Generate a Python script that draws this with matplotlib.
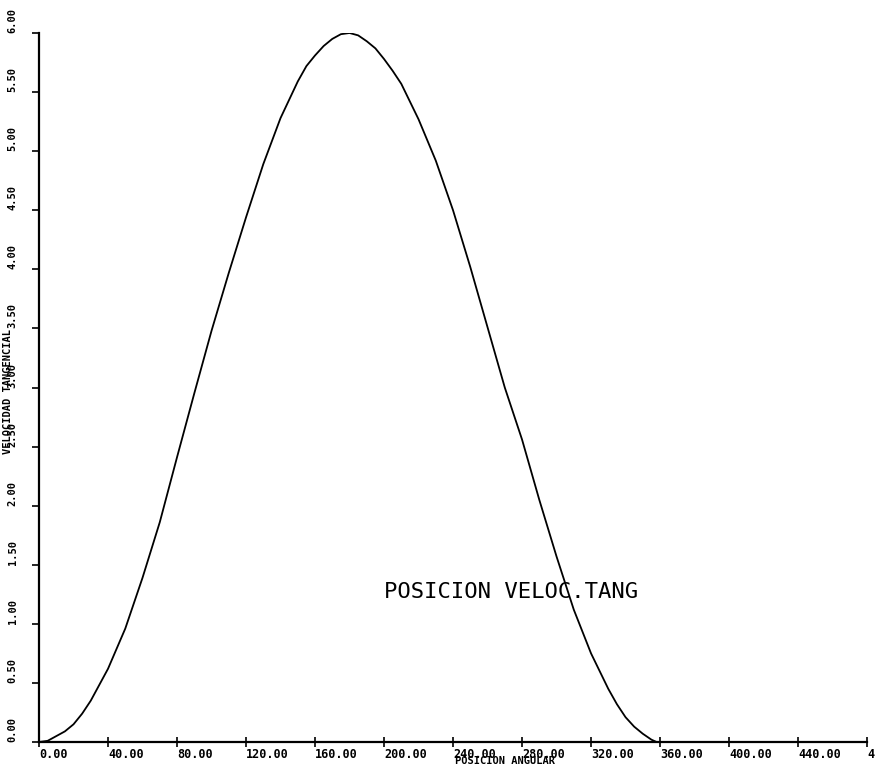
import matplotlib
matplotlib.use("Agg")
import matplotlib.pyplot as plt

# curve (angle in degrees, tangential velocity)
posicion = [0, 5, 10, 15, 20, 25, 30, 40, 50, 60, 70, 80, 90, 100, 110, 120, 130, 140, 150,
            155, 160, 165, 170, 175, 180, 185, 190, 195, 200, 205, 210, 220, 230, 240, 250,
            260, 270, 280, 290, 300, 310, 320, 330, 335, 340, 345, 350, 355, 358]
velocidad = [0.0, 0.01, 0.05, 0.09, 0.15, 0.24, 0.35, 0.62, 0.96, 1.39, 1.86, 2.41, 2.95,
             3.48, 3.97, 4.44, 4.89, 5.28, 5.59, 5.72, 5.81, 5.89, 5.95, 5.99, 6.00, 5.98,
             5.93, 5.87, 5.78, 5.68, 5.57, 5.27, 4.92, 4.50, 4.02, 3.51, 3.00, 2.56, 2.05,
             1.57, 1.12, 0.75, 0.45, 0.32, 0.21, 0.13, 0.07, 0.02, 0.0]

xticks = [0, 40, 80, 120, 160, 200, 240, 280, 320, 360, 400, 440, 480]
yticks = [0.0, 0.5, 1.0, 1.5, 2.0, 2.5, 3.0, 3.5, 4.0, 4.5, 5.0, 5.5, 6.0]

mono = "DejaVu Sans Mono"

fig = plt.figure(figsize=(8.75, 7.71), dpi=100)
ax = fig.add_axes([0.0446, 0.0376, 0.9463, 0.9196])

ax.plot(posicion, velocidad, color="black", lw=1.3)

ax.set_xlim(0, 480)
ax.set_ylim(0, 6)
for s in ["top", "right"]:
    ax.spines[s].set_visible(False)
for s in ["left", "bottom"]:
    ax.spines[s].set_linewidth(1.6)
    ax.spines[s].set_color("black")

ax.set_xticks(xticks)
ax.set_xticklabels(["%.2f" % v for v in xticks], ha="left", fontfamily=mono,
                   fontweight="bold", fontsize=8.5)
ax.set_yticks(yticks)
ax.set_yticklabels(["%.2f" % v for v in yticks], rotation=90, va="bottom",
                   ha="center", fontfamily=mono, fontweight="bold", fontsize=7.5)
ax.tick_params(axis="x", direction="inout", length=7, width=1.2, pad=1)
ax.tick_params(axis="y", direction="out", length=5, width=1.2, pad=14)
for lab in ax.get_yticklabels():
    lab.set_horizontalalignment("center")

ax.text(241, -0.12, "POSICION ANGULAR", fontfamily=mono, fontweight="bold",
        fontsize=7.5, ha="left", va="top", clip_on=False)
fig.text(8 / 875, 1 - 392 / 771, "VELOCIDAD TANGENCIAL", rotation=90, fontfamily=mono,
         fontweight="bold", fontsize=7.5, ha="center", va="center")

ax.text(200, 1.27, "POSICION VELOC.TANG", fontfamily=mono, fontsize=16,
        ha="left", va="center")

fig.savefig("out.png", dpi=100)
